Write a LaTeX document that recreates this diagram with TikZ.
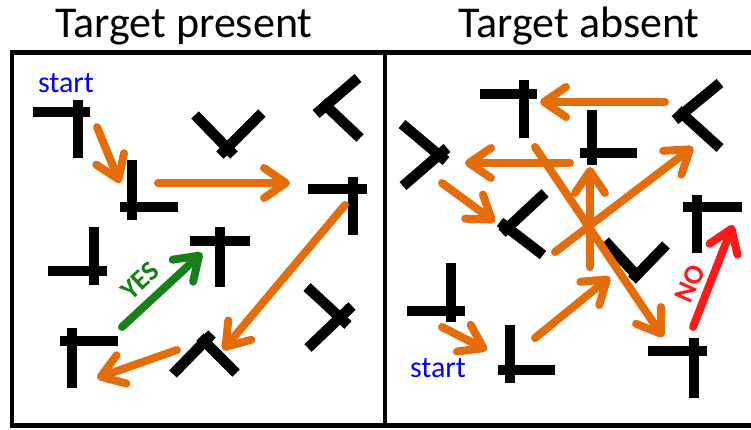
\documentclass[tikz,border=0pt]{standalone}
\usepackage{fontspec}
\setmainfont{Carlito}
\usetikzlibrary{arrows.meta}
\definecolor{walkorange}{RGB}{228,108,10}
\definecolor{yesgreen}{RGB}{24,128,24}
\definecolor{nored}{RGB}{255,25,25}
\begin{document}
\begin{tikzpicture}[x=1pt,y=-1pt,
	bar/.style={line width=10.5pt},
	frame/.style={line width=4.5pt},
	walk/.style={line width=8pt,line cap=round,-{Straight Barb[round,length=22pt,width=30pt]}},
	title/.style={anchor=base,font=\fontsize{44}{44}\selectfont},
	startlabel/.style={anchor=base,text=blue,font=\fontsize{30}{30}\selectfont},
	answer/.style={font=\bfseries\fontsize{28}{28}\selectfont}]
	\useasboundingbox (0,0) rectangle (751,429);

	% ramki
	\draw[frame] (12,52.5) rectangle (385,425.5);
	\draw[frame] (385,52.5) -- (751,52.5) (385,425.5) -- (751,425.5);
	\node[title] (present) at (184,37) {Target present};
	\node[title] (absent) at (579,37) {Target absent};

	% litery T i L, lewy panel
	\foreach \xa/\ya/\xb/\yb in {33/112/90/112, 78/100/78/158,
		132/160/132/220, 120/207/178/207,
		308/189/367/189, 353/177/353/235,
		195/115/234/155, 262/113/220/155,
		358/78/316/114, 322/102/360/138,
		48/271/107/271, 94/227/94/285,
		60/341/118/341, 72/328/72/388,
		190/241/250/241, 220/227/220/287,
		173/374/212/334, 200/337/236/373,
		307/287/348/325, 308/348/352/306} {
		\draw[bar] (\xa,\ya) -- (\xb,\yb);
	}
	% litery T i L, prawy panel
	\foreach \xa/\ya/\xb/\yb in {480/94/537/94, 524/80/524/138,
		402/124/446/161, 403/186/447/148,
		720/83/675/120, 678/110/720/148,
		592/110/592/165, 580/153/637/153,
		683/207/742/207, 697/195/697/253,
		545/193/502/233, 500/222/543/255,
		605/241/640/279, 666/245/632/280,
		407/311/465/311, 451/263/451/322,
		510/325/510/383, 498/370/555/370,
		648/351/707/351, 694/338/694/398} {
		\draw[bar] (\xa,\ya) -- (\xb,\yb);
	}

	% sciezki
	\foreach \xa/\ya/\xb/\yb in {97/127/120/183, 158/183/290/183,
		345/205/223/350, 177/350/97/378,
		442/327/487/350, 535/338/610/277, 590/267/590/167,
		555/252/693/147, 665/102/540/102, 570/163/465/163,
		442/183/495/222, 535/147/663/337} {
		\draw[walk,walkorange] (\xa,\ya) -- (\xb,\yb);
	}
	\draw[walk,yesgreen] (122,327) -- (202,253);
	\draw[walk,nored] (693,327) -- (733,225);

	\node[startlabel] (startl) at (66,92) {start};
	\node[startlabel] (startr) at (438,377) {start};
	\node[answer,text=yesgreen,rotate=43] (yes) at (140,281) {YES};
	\node[answer,text=nored,rotate=66] (no) at (690,284) {NO};
\end{tikzpicture}
\end{document}
